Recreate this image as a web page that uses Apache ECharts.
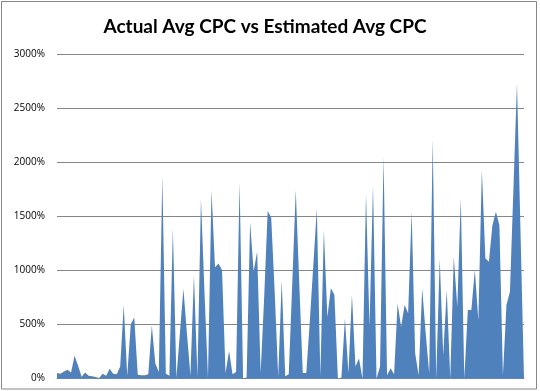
<!DOCTYPE html>
<html>
<head>
<meta charset="utf-8">
<script src="https://cdn.jsdelivr.net/npm/echarts@6/dist/echarts.min.js"></script>
<style>
html,body{margin:0;padding:0;background:#fff;}
#chart{width:540px;height:391px;}
</style>
</head>
<body>
<div id="chart"></div>
<script>
// Data (percent values)
const titleText = "Actual Avg CPC vs Estimated Avg CPC";
const yTicks = [0, 500, 1000, 1500, 2000, 2500, 3000];
const values = [
  50, 45, 65, 80, 55, 210, 120, 17, 55, 25,
  20, 15, 5, 45, 25, 90, 45, 40, 110, 680,
  25, 500, 565, 35, 30, 30, 40, 490, 140, 60,
  1880, 45, 25, 1390, 10, 420, 830, 420, 30, 955,
  20, 1665, 800, 10, 1745, 1030, 1065, 1005, 50, 255,
  40, 60, 1820, 0, 10, 1450, 990, 1175, 50, 750,
  1550, 1490, 800, 17, 910, 20, 40, 880, 1745, 880,
  50, 50, 530, 1050, 1575, 20, 1375, 570, 835, 775,
  0, 10, 555, 50, 775, 110, 185, 0, 1715, 480,
  1790, 0, 110, 2055, 30, 95, 40, 695, 480, 680,
  605, 1545, 233, 30, 835, 420, 48, 2220, 0, 1110,
  218, 820, 0, 1128, 665, 1670, 0, 635, 635, 1005,
  540, 1930, 1113, 1080, 1420, 1545, 1420, 30, 680, 805,
  1770, 2735, 1370, 0
];
const categories = values.map((v, i) => String(i + 1));

const chart = echarts.init(document.getElementById('chart'), null, {renderer: 'canvas'});
chart.setOption({
  animation: false,
  backgroundColor: '#ffffff',
  title: {
    text: titleText,
    left: 260, top: 12, textAlign: 'center',
    textStyle: {fontFamily: 'Lato', fontWeight: 'bold', fontSize: 19, color: '#000'}
  },
  grid: {left: 57, right: 16, top: 54.5, bottom: 12.5, containLabel: false},
  xAxis: {
    type: 'category', data: categories, boundaryGap: false,
    axisLine: {show: true, lineStyle: {color: '#868686', width: 1}},
    axisTick: {show: false}, axisLabel: {show: false}, splitLine: {show: false}
  },
  yAxis: {
    type: 'value', min: yTicks[0], max: yTicks[yTicks.length - 1], interval: 500,
    axisLine: {show: false}, axisTick: {show: false},
    axisLabel: {formatter: v => v + '%', margin: 12, fontFamily: 'Open Sans', fontSize: 10, color: '#000'},
    splitLine: {show: true, lineStyle: {color: '#868686', width: 1}}
  },
  series: [{
    type: 'line', data: values, showSymbol: false, symbol: 'none',
    lineStyle: {width: 0, color: '#4F81BD'},
    itemStyle: {color: '#4F81BD'},
    areaStyle: {color: '#4F81BD', opacity: 1}
  }],
  graphic: [{
    type: 'rect', silent: true,
    shape: {x: 1.5, y: 1.5, width: 535, height: 387.5},
    style: {fill: 'none', stroke: '#868686', lineWidth: 1}
  }]
});
</script>
</body>
</html>
